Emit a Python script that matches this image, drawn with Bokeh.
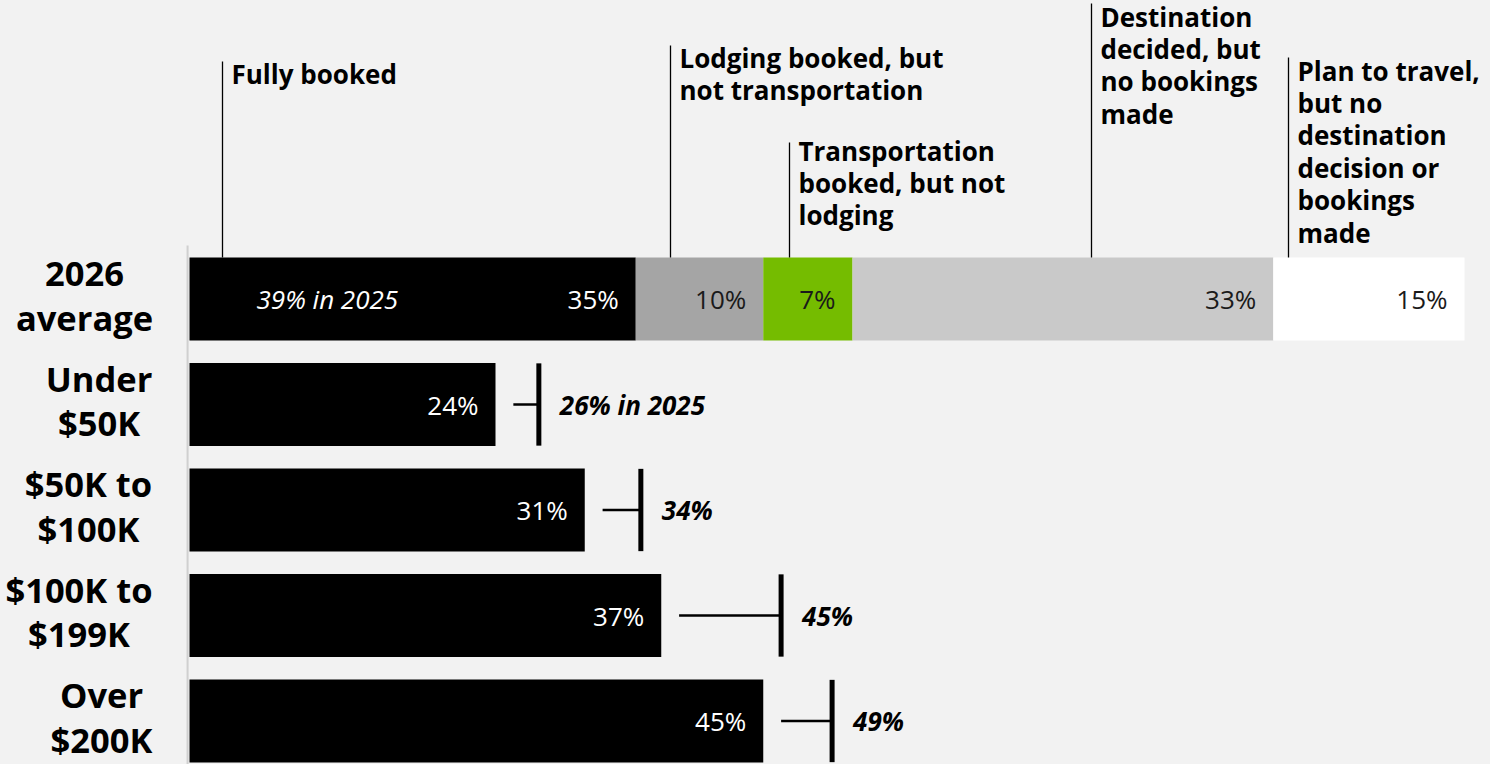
from bokeh.plotting import figure
from bokeh.models import Range1d, ColumnDataSource
from bokeh.core.properties import value
from bokeh.embed import file_html
from bokeh.resources import INLINE

# ---------------- data ----------------
categories = ["2026\naverage", "Under\n$50K", "$50K to\n$100K", "$100K to\n$199K", "Over\n$200K"]
segment_labels = [
    "Fully booked",
    "Lodging booked, but\nnot transportation",
    "Transportation\nbooked, but not\nlodging",
    "Destination\ndecided, but\nno bookings\nmade",
    "Plan to travel,\nbut no\ndestination\ndecision or\nbookings\nmade",
]
avg_2026_shares = [35, 10, 7, 33, 15]
avg_2025_fully_booked = 39
income_fully_booked_2026 = [24, 31, 37, 45]
income_fully_booked_2025 = [26, 34, 45, 49]

# ---------------- styling / layout ----------------
segment_colors = ["#000000", "#a5a5a5", "#75bc00", "#c9c9c9", "#ffffff"]
segment_text_colors = ["#ffffff", "#1a1a1a", "#1a1a1a", "#1a1a1a", "#1a1a1a"]
FONT = value("Open Sans")
BG = "#f2f2f2"

W, H = 1490, 764
X0 = 189            # pixel of 0 %
PX_PER_PCT = 12.75  # pixels per percentage point
ROW0 = 298.5        # pixel centre of first row
ROW_STEP = 105.5    # pixels between rows
BAR_H = 0.787
VAL_FS = "26px"


def px_to_x(px):
    return (px - X0) / PX_PER_PCT


def px_to_y(py):
    return (py - ROW0) / ROW_STEP


p = figure(width=W, height=H, output_backend="svg", toolbar_location=None,
           x_range=Range1d(px_to_x(0), px_to_x(W)),
           y_range=Range1d(px_to_y(H), px_to_y(0)),
           x_axis_type=None, y_axis_type=None, min_border=0)
p.min_border_left = p.min_border_right = p.min_border_top = p.min_border_bottom = 0
p.background_fill_color = BG
p.border_fill_color = BG
p.outline_line_color = None
p.xgrid.visible = False
p.ygrid.visible = False

# axis line
p.segment(x0=[-0.15], y0=[px_to_y(245)], x1=[-0.15], y1=[px_to_y(H)],
          line_color="#d0d0d0", line_width=2)

# ---------- stacked average bar ----------
lefts, rights = [], []
acc = 0
for v in avg_2026_shares:
    lefts.append(acc)
    acc += v
    rights.append(acc)
seg_src = ColumnDataSource(dict(
    y=[0] * len(avg_2026_shares), left=lefts, right=rights,
    color=segment_colors, tcolor=segment_text_colors,
    label=[f"{v}%" for v in avg_2026_shares]))
p.hbar(y="y", left="left", right="right", height=BAR_H, fill_color="color",
       line_color=None, source=seg_src)
p.text(x="right", y="y", text="label", text_color="tcolor", source=seg_src,
       text_align="right", text_baseline="middle", x_offset=-17,
       text_font=FONT, text_font_size=VAL_FS)

# 2025 note inside the average bar
p.text(x=[px_to_x(256)], y=[0], text=[f"{avg_2025_fully_booked}% in 2025"],
       text_color="#ffffff", text_font=FONT, text_font_size=VAL_FS,
       text_font_style="italic", text_align="left", text_baseline="middle")

# ---------- income bars ----------
rows = list(range(1, len(categories)))
inc_src = ColumnDataSource(dict(
    y=rows, right=income_fully_booked_2026,
    label=[f"{v}%" for v in income_fully_booked_2026]))
p.hbar(y="y", left=0, right="right", height=BAR_H, fill_color="#000000",
       line_color=None, source=inc_src)
p.text(x="right", y="y", text="label", source=inc_src, text_color="#ffffff",
       text_align="right", text_baseline="middle", x_offset=-17,
       text_font=FONT, text_font_size=VAL_FS)

# 2025 markers
GAP = 1.4
mk_x = [v + GAP for v in income_fully_booked_2025]
conn_x0 = [v + GAP for v in income_fully_booked_2026]
p.segment(x0=conn_x0, y0=rows, x1=mk_x, y1=rows, line_color="#000000", line_width=2.5)
p.segment(x0=mk_x, y0=[r - 0.39 for r in rows], x1=mk_x, y1=[r + 0.39 for r in rows],
          line_color="#000000", line_width=5)
mk_labels = [f"{v}%" for v in income_fully_booked_2025]
mk_labels[0] = mk_labels[0] + " in 2025"
p.text(x=mk_x, y=rows, text=mk_labels, text_color="#000000", text_font=FONT,
       text_font_size=VAL_FS, text_font_style="bold italic",
       text_align="left", text_baseline="middle", x_offset=21)

# ---------- category labels ----------
cat_centers_px = [84, 98.5, 88, 78.5, 101]
p.text(x=[px_to_x(c) for c in cat_centers_px], y=list(range(len(categories))),
       text=categories, text_color="#000000", text_font=FONT, text_font_size="34.5px",
       text_font_style="bold", text_align="center", text_baseline="middle",
       text_line_height=0.95, y_offset=-4)

# ---------- segment annotations ----------
ann_x_px = [222, 670, 789, 1091, 1288]
ann_top_px = [61, 45, 142, 3, 57]
ann_text_dy = [-6, -6, -10, -5, -5]
ann_x = [px_to_x(v) for v in ann_x_px]
ann_top = [px_to_y(v) for v in ann_top_px]
bar_top = -BAR_H / 2
p.segment(x0=ann_x, y0=ann_top, x1=ann_x, y1=[bar_top] * 5,
          line_color="#000000", line_width=1.3)
ann_src = ColumnDataSource(dict(x=ann_x, y=ann_top, text=segment_labels, dy=ann_text_dy))
p.text(x="x", y="y", text="text", y_offset="dy", source=ann_src,
       text_color="#000000", text_font=FONT,
       text_font_size="26px", text_font_style="bold", text_align="left",
       text_baseline="top", x_offset=9, text_line_height=0.9)

html = file_html(p, INLINE)
html = html.replace("<head>", "<head><style>html,body{margin:0;padding:0;background:#f2f2f2;overflow:hidden}</style>", 1)
open("out.html", "w").write(html)
